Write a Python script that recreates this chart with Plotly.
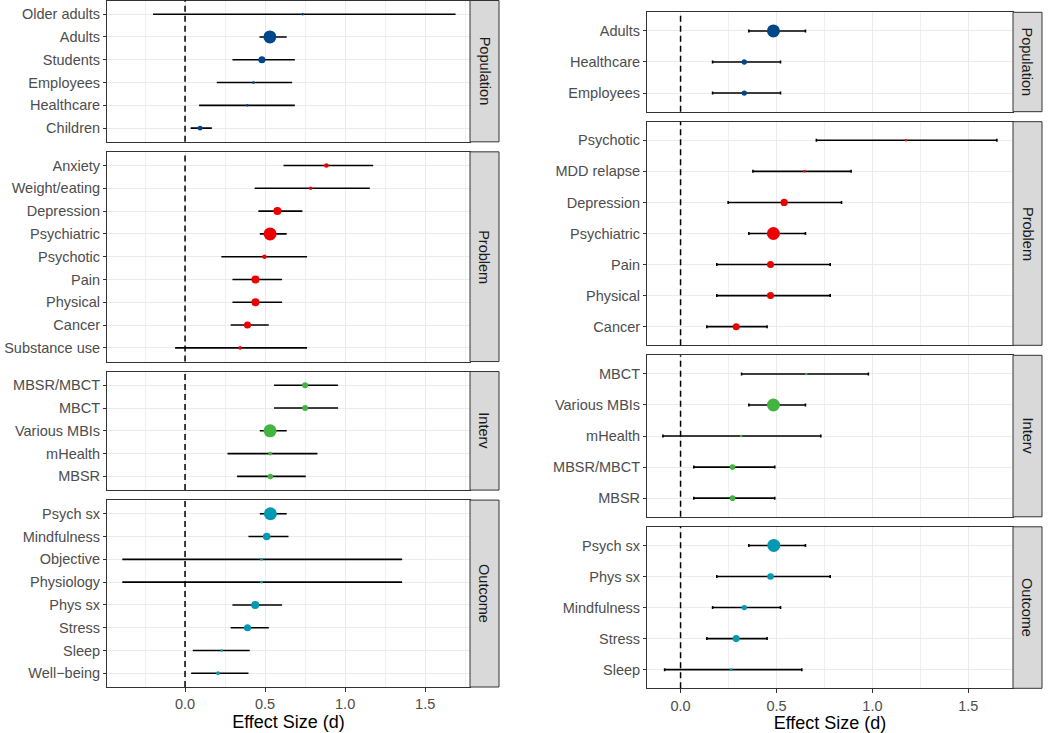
import numpy as np
import plotly.graph_objects as go

# ---------------- data: left panel ----------------
left_facet = (["Population"] * 6 + ["Problem"] * 9 +
              ["Interv"] * 5 + ["Outcome"] * 8)
left_cat = ["Older adults", "Adults", "Students", "Employees", "Healthcare", "Children",
            "Anxiety", "Weight/eating", "Depression", "Psychiatric", "Psychotic",
            "Pain", "Physical", "Cancer", "Substance use",
            "MBSR/MBCT", "MBCT", "Various MBIs", "mHealth", "MBSR",
            "Psych sx", "Mindfulness", "Objective", "Physiology", "Phys sx",
            "Stress", "Sleep", "Well\u2212being"]
left_est = [0.735, 0.53, 0.48, 0.427, 0.388, 0.094,
            0.883, 0.785, 0.577, 0.531, 0.496, 0.44, 0.44, 0.39, 0.344,
            0.75, 0.75, 0.531, 0.533, 0.533,
            0.533, 0.51, 0.477, 0.477, 0.438, 0.39, 0.229, 0.206]
left_lo = [-0.20, 0.465, 0.296, 0.198, 0.088, 0.035,
           0.615, 0.435, 0.458, 0.467, 0.227, 0.296, 0.296, 0.285, -0.062,
           0.556, 0.556, 0.467, 0.265, 0.325,
           0.467, 0.396, -0.392, -0.392, 0.296, 0.285, 0.048, 0.038]
left_hi = [1.69, 0.635, 0.686, 0.669, 0.686, 0.167,
           1.175, 1.154, 0.733, 0.635, 0.762, 0.606, 0.606, 0.523, 0.762,
           0.956, 0.956, 0.635, 0.827, 0.754,
           0.635, 0.646, 1.356, 1.356, 0.606, 0.523, 0.404, 0.396]
left_k = [0.3, 100, 21, 0.5, 0.5, 7,
          6, 2, 30, 100, 5, 30, 30, 21, 3,
          13, 13, 100, 3, 10,
          100, 25, 0.3, 0.3, 30, 21, 0.3, 3]

# ---------------- data: right panel ----------------
right_facet = (["Population"] * 3 + ["Problem"] * 7 +
               ["Interv"] * 5 + ["Outcome"] * 5)
right_cat = ["Adults", "Healthcare", "Employees",
             "Psychotic", "MDD relapse", "Depression", "Psychiatric", "Pain",
             "Physical", "Cancer",
             "MBCT", "Various MBIs", "mHealth", "MBSR/MBCT", "MBSR",
             "Psych sx", "Phys sx", "Mindfulness", "Stress", "Sleep"]
right_est = [0.484, 0.332, 0.332,
             1.175, 0.646, 0.54, 0.484, 0.469, 0.469, 0.29,
             0.655, 0.484, 0.316, 0.271, 0.271,
             0.486, 0.469, 0.332, 0.29, 0.264]
right_lo = [0.356, 0.167, 0.167,
            0.708, 0.377, 0.248, 0.356, 0.189, 0.189, 0.137,
            0.318, 0.356, -0.092, 0.069, 0.069,
            0.356, 0.189, 0.167, 0.137, -0.083]
right_hi = [0.651, 0.521, 0.521,
            1.649, 0.889, 0.839, 0.651, 0.78, 0.78, 0.451,
            0.979, 0.651, 0.731, 0.491, 0.491,
            0.651, 0.78, 0.521, 0.451, 0.632]
right_k = [100, 9, 9,
           0.2, 0.2, 23, 100, 21, 21, 21,
           0.2, 100, 0.3, 11, 11,
           100, 18, 9, 21, 0.3]

facet_order = ["Population", "Problem", "Interv", "Outcome"]
facet_colors = {"Population": "#00468B", "Problem": "#ED0000",
                "Interv": "#42B540", "Outcome": "#0099B4"}

W, H = 1050, 733
FONT = "Liberation Sans, Arial, sans-serif"
fig = go.Figure()


def marker_size(k):
    return 2 + 11 * np.sqrt(np.asarray(k, dtype=float) / 100)


def add_panel(start, facet, cat, est, lo, hi, k, xdom, strip, top, bottom, xrange, cap):
    facet = np.array(facet)
    cat, est, lo, hi = np.array(cat), np.array(est), np.array(lo), np.array(hi)
    size = marker_size(k)
    counts = [int((facet == f).sum()) for f in facet_order]
    gap = 10
    unit = (bottom - top - gap * 3) / sum(n + 0.2 for n in counts)
    y = top
    for j, name in enumerate(facet_order):
        s = start + j
        sfx = "" if s == 1 else str(s)
        m = facet == name
        n = counts[j]
        h = (n + 0.2) * unit
        ydom = [1 - (y + h) / H, 1 - y / H]
        y += h + gap
        last = j == len(facet_order) - 1

        fig.add_trace(go.Scatter(
            x=est[m], y=cat[m], mode="markers",
            marker=dict(color=facet_colors[name], size=size[m], opacity=1,
                        line=dict(width=0)),
            error_x=dict(type="data", symmetric=False,
                         array=hi[m] - est[m], arrayminus=est[m] - lo[m],
                         color="black", thickness=1.6, width=cap),
            xaxis="x" + sfx, yaxis="y" + sfx, showlegend=False))

        xa = dict(domain=xdom, anchor="y" + sfx, range=xrange,
                  dtick=0.5, tick0=0, tickformat=".1f",
                  showgrid=True, gridcolor="#EBEBEB", gridwidth=1.3,
                  minor=dict(dtick=0.25, tick0=0, showgrid=True,
                             gridcolor="#F0F0F0", gridwidth=0.8),
                  zeroline=False, showline=True, mirror=True,
                  linecolor="#333333", linewidth=1,
                  showticklabels=last, ticks="outside" if last else "",
                  ticklen=4, tickcolor="#333333",
                  tickfont=dict(size=14.5, color="#4D4D4D", family=FONT))
        if last:
            xa["title"] = dict(text="Effect Size (d)", standoff=3,
                               font=dict(size=18, color="black", family=FONT))
        ya = dict(domain=ydom, anchor="x" + sfx, type="category",
                  categoryorder="array", categoryarray=list(cat[m]),
                  range=[n - 1 + 0.6, -0.6],
                  showgrid=True, gridcolor="#EBEBEB", gridwidth=1.3,
                  zeroline=False, showline=True, mirror=True,
                  linecolor="#333333", linewidth=1,
                  ticks="outside", ticklen=3, tickcolor="#333333",
                  tickfont=dict(size=14.5, color="#4D4D4D", family=FONT))
        fig.update_layout({"xaxis" + sfx: xa, "yaxis" + sfx: ya})

        # dashed reference line at d = 0
        fig.add_shape(type="line", xref="x" + sfx, yref="y" + sfx + " domain",
                      x0=0, x1=0, y0=0, y1=1,
                      line=dict(color="black", width=1.5, dash="6px,4px"))
        # facet strip
        fig.add_shape(type="rect", xref="paper", yref="y" + sfx + " domain",
                      x0=strip[0] / W, x1=strip[1] / W, y0=0, y1=1,
                      fillcolor="#D9D9D9", line=dict(color="#333333", width=1))
        fig.add_annotation(text=name, textangle=90, showarrow=False,
                           xref="paper", yref="y" + sfx + " domain",
                           x=(strip[0] + strip[1]) / 2 / W, y=0.5,
                           xanchor="center", yanchor="middle",
                           font=dict(size=14.5, color="#1A1A1A", family=FONT))


add_panel(1, left_facet, left_cat, left_est, left_lo, left_hi, left_k,
          [107 / W, 470 / W], (470, 499), 0.5, 687, [-0.4875, 1.78], 0)
add_panel(5, right_facet, right_cat, right_est, right_lo, right_hi, right_k,
          [647 / W, 1013 / W], (1013, 1042), 12.3, 688.3, [-0.175, 1.733], 1.5)

fig.update_layout(width=W, height=H, margin=dict(l=0, r=0, t=0, b=0),
                  paper_bgcolor="white", plot_bgcolor="white",
                  font=dict(family=FONT), showlegend=False)

fig.write_html("out.html", config={"displayModeBar": False},
               post_script="document.body.style.margin='0';"
                           "document.body.style.overflow='hidden';")
